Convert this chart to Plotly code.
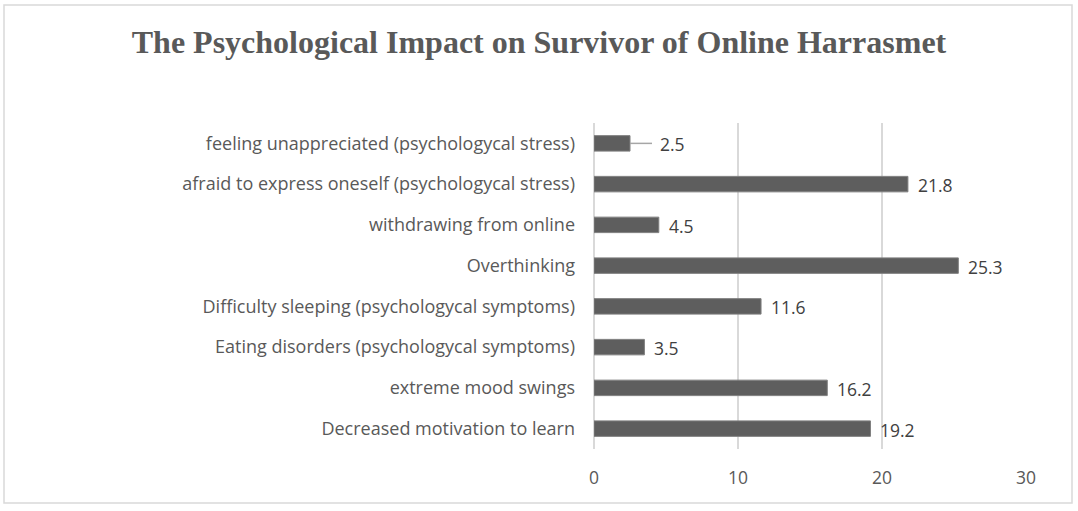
import plotly.graph_objects as go

effects = [
  "feeling unappreciated (psychologycal stress)",
  "afraid to express oneself (psychologycal stress)",
  "withdrawing from online",
  "Overthinking",
  "Difficulty sleeping (psychologycal symptoms)",
  "Eating disorders (psychologycal symptoms)",
  "extreme mood swings",
  "Decreased motivation to learn",
]
percent = [2.5, 21.8, 4.5, 25.3, 11.6, 3.5, 16.2, 19.2]
x_ticks = [0, 10, 20, 30]

W, H = 1078, 511
ml, mr, mt, mb = 594, 52, 123, 62
pw, ph = W - ml - mr, H - mt - mb
FONT = "Open Sans"

fig = go.Figure()
fig.add_trace(go.Bar(
  x=percent, y=effects, orientation="h",
  marker=dict(color="#5e5e5e", line=dict(color="#7f7f7f", width=1)),
  hoverinfo="x+y",
))

# value labels outside the bars
for i, (cat, v) in enumerate(zip(effects, percent)):
  shift = 28 if v < 3 else 8
  fig.add_annotation(x=v, y=cat, text=str(v), showarrow=False,
    xanchor="left", xshift=shift, yshift=-1,
    font=dict(family=FONT, size=17.5, color="#404040"))
  if v < 3:
    # leader line for the small label
    fig.add_shape(type="line", xref="x", yref="y", xsizemode="pixel", xanchor=v,
      x0=0, x1=22, y0=i, y1=i, line=dict(color="#a6a6a6", width=1.5))

# chart border
fig.add_shape(type="rect", xref="paper", yref="paper",
  x0=(4 - ml) / pw, x1=(1072 - ml) / pw,
  y0=(H - mb - 503) / ph, y1=(H - mb - 5) / ph,
  line=dict(color="#d9d9d9", width=1.5), fillcolor="rgba(0,0,0,0)", layer="below")

fig.update_layout(
  width=W, height=H,
  margin=dict(l=ml, r=mr, t=mt, b=mb),
  paper_bgcolor="white", plot_bgcolor="white",
  bargap=0.62, showlegend=False,
  title=dict(text="<b>The Psychological Impact on Survivor of Online Harrasmet</b>",
    x=539 / W, xref="container", xanchor="center", y=1 - 42 / H, yanchor="middle",
    font=dict(family="Liberation Serif", size=32, color="#595959")),
)
fig.update_xaxes(range=[0, 30], tickvals=x_ticks, showgrid=True, gridcolor="#d9d9d9",
  gridwidth=1.5, zeroline=True, zerolinecolor="#d9d9d9", zerolinewidth=1.5,
  showline=False, ticks="", ticklabelstandoff=16,
  tickfont=dict(family=FONT, size=17.5, color="#595959"))
fig.update_yaxes(autorange="reversed", showgrid=False, showline=False, ticks="",
  ticklabelstandoff=18,
  tickfont=dict(family=FONT, size=18, color="#595959"))

# drop the browser's default body margin so the figure sits at the page corner
fig.write_html("out.html", config={"displayModeBar": False},
  post_script="document.body.style.margin='0';")
